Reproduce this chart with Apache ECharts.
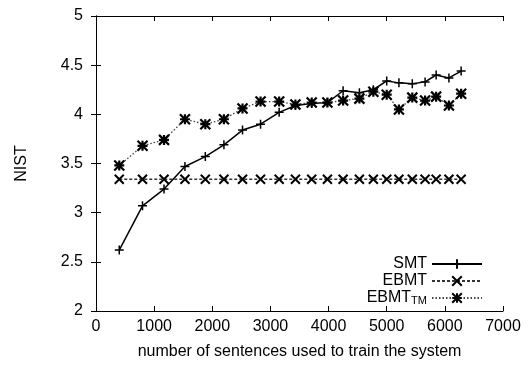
<!DOCTYPE html>
<html>
<head>
<meta charset="utf-8">
<script src="https://cdn.jsdelivr.net/npm/echarts@6/dist/echarts.min.js"></script>
<style>
  html, body { margin: 0; padding: 0; background: #fff; }
  #chart { width: 531px; height: 365px; }
</style>
</head>
<body>
<div id="chart"></div>
<script>
// training set sizes (x) and NIST scores
const sizes = [400, 800, 1170, 1530, 1880, 2200, 2520, 2830, 3150, 3430, 3710, 3980,
  4250, 4530, 4770, 5000, 5210, 5440, 5660, 5850, 6070, 6280];
const smt = [2.62, 3.07, 3.24, 3.47, 3.57, 3.69, 3.84, 3.90, 4.02, 4.09, 4.11, 4.12,
  4.24, 4.22, 4.25, 4.34, 4.32, 4.31, 4.33, 4.40, 4.37, 4.44];
const ebmt = [3.34, 3.34, 3.34, 3.34, 3.34, 3.34, 3.34, 3.34, 3.34, 3.34, 3.34, 3.34,
  3.34, 3.34, 3.34, 3.34, 3.34, 3.34, 3.34, 3.34, 3.34, 3.34];
const ebmtTm = [3.48, 3.68, 3.74, 3.95, 3.90, 3.95, 4.06, 4.13, 4.13, 4.10, 4.12, 4.12,
  4.14, 4.16, 4.23, 4.20, 4.05, 4.17, 4.14, 4.18, 4.09, 4.21];
const seriesNames = ['SMT', 'EBMT', 'EBMT_TM'];

const FONT = 'Liberation Sans';
const pair = (ys) => sizes.map((x, i) => [x, ys[i]]);

const PLUS = 'path://M5,0 L5,10 M0,5 L10,5';
const CROSS = 'path://M0,0 L10,10 M10,0 L0,10';
const STAR = 'path://M5,0 L5,10 M0,5 L10,5 M0,0 L10,10 M10,0 L0,10';

const chart = echarts.init(document.getElementById('chart'));

// plain axis pieces shared by the mirror axes
const axisLine = { show: true, lineStyle: { color: '#000', width: 1 } };
const axisTick = { show: true, inside: true, length: 5, lineStyle: { color: '#000' } };

const option = {
  animation: false,
  grid: { left: 96, right: 28, top: 16, bottom: 53 },
  legend: {
    orient: 'vertical',
    right: 43,
    top: 251,
    align: 'right',
    itemWidth: 50,
    itemHeight: 12,
    itemGap: 1,
    data: seriesNames,
    textStyle: {
      fontFamily: FONT,
      fontSize: 16,
      color: '#000',
      rich: {
        a: { fontFamily: FONT, fontSize: 16, color: '#000' },
        b: { fontFamily: FONT, fontSize: 11, color: '#000', padding: [6, 0, 0, 0] }
      }
    },
    formatter: function (name) {
      return name === 'EBMT_TM' ? '{a|EBMT}{b|TM}' : name;
    }
  },
  xAxis: [{
    type: 'value',
    min: 0, max: 7000, interval: 1000,
    name: 'number of sentences used to train the system',
    nameLocation: 'middle',
    nameGap: 33,
    nameTextStyle: { fontFamily: FONT, fontSize: 16, color: '#000' },
    axisLine: axisLine,
    axisTick: axisTick,
    splitLine: { show: false },
    axisLabel: {
      fontFamily: FONT, fontSize: 16, color: '#000', margin: 8,
      formatter: (v) => String(v)
    }
  }, {
    type: 'value',
    position: 'top',
    min: 0, max: 7000, interval: 1000,
    axisLine: axisLine,
    axisTick: axisTick,
    splitLine: { show: false },
    axisLabel: { show: false }
  }],
  yAxis: [{
    type: 'value',
    min: 2, max: 5, interval: 0.5,
    name: 'NIST',
    nameLocation: 'middle',
    nameGap: 66,
    nameTextStyle: { fontFamily: FONT, fontSize: 16, color: '#000' },
    axisLine: axisLine,
    axisTick: axisTick,
    splitLine: { show: false },
    axisLabel: { fontFamily: FONT, fontSize: 16, color: '#000', margin: 13 }
  }, {
    type: 'value',
    position: 'right',
    min: 2, max: 5, interval: 0.5,
    axisLine: axisLine,
    axisTick: axisTick,
    splitLine: { show: false },
    axisLabel: { show: false }
  }],
  series: [{
    name: 'SMT',
    type: 'line',
    data: pair(smt),
    symbol: PLUS,
    symbolSize: 9,
    showAllSymbol: true,
    lineStyle: { color: '#000', width: 1.5, type: 'solid' },
    itemStyle: { color: '#000', borderColor: '#000', borderWidth: 1.5 }
  }, {
    name: 'EBMT',
    type: 'line',
    data: pair(ebmt),
    symbol: CROSS,
    symbolSize: 9,
    showAllSymbol: true,
    lineStyle: { color: '#333', width: 1.3, type: [3, 2] },
    itemStyle: { color: '#000', borderColor: '#000', borderWidth: 2 }
  }, {
    name: 'EBMT_TM',
    type: 'line',
    data: pair(ebmtTm),
    symbol: STAR,
    symbolSize: 10,
    showAllSymbol: true,
    lineStyle: { color: '#444', width: 1.3, type: [1.5, 2] },
    itemStyle: { color: '#000', borderColor: '#000', borderWidth: 2.2 }
  }]
};

chart.setOption(option);
</script>
</body>
</html>
